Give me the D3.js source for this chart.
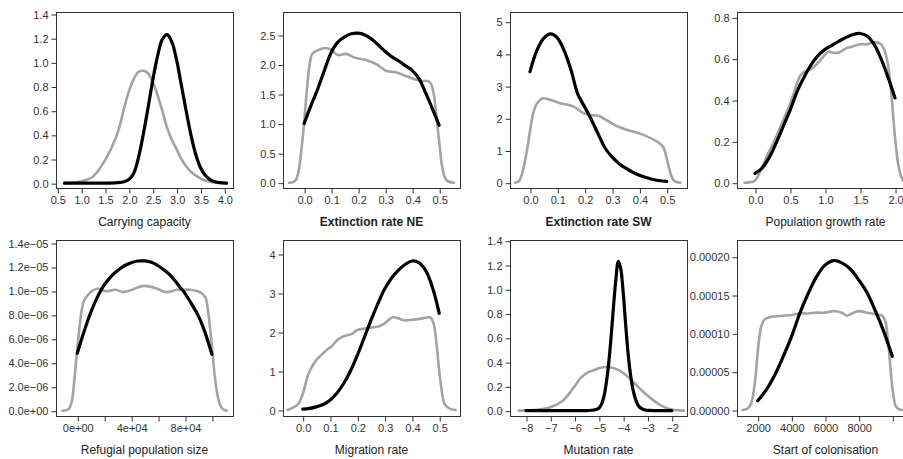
<!DOCTYPE html>
<html>
<head>
<meta charset="utf-8">
<script src="https://cdn.jsdelivr.net/npm/d3@7"></script>
<style>
  html, body { margin: 0; padding: 0; background: #fff; }
  svg { display: block; font-family: "Liberation Sans", Arial, sans-serif; }
</style>
</head>
<body>
<div id="chart"></div>
<script>
// black = posterior, grey = prior / accepted sims

// Carrying capacity
const ccX = [0.65, 0.8, 1.0, 1.25, 1.5, 1.75, 1.9, 2.0, 2.1, 2.2, 2.3, 2.4, 2.5, 2.6, 2.7, 2.8, 2.9, 3.0, 3.1, 3.2, 3.3, 3.4, 3.5, 3.6, 3.7, 3.8, 3.9, 4.05];
const ccPost = [0, 0, 0, 0, 0, 0.004, 0.012, 0.03, 0.08, 0.21, 0.4, 0.62, 0.85, 1.05, 1.19, 1.23, 1.17, 1.02, 0.81, 0.6, 0.4, 0.24, 0.13, 0.065, 0.03, 0.012, 0.005, 0];
const ccPrior = [0, 0.003, 0.015, 0.055, 0.19, 0.4, 0.62, 0.76, 0.86, 0.92, 0.93, 0.91, 0.84, 0.73, 0.6, 0.46, 0.36, 0.28, 0.2, 0.14, 0.095, 0.065, 0.04, 0.022, 0.011, 0.005, 0.002, 0];
const ccXTicks = [0.5, 1.0, 1.5, 2.0, 2.5, 3.0, 3.5, 4.0];
const ccXLabels = ['0.5', '1.0', '1.5', '2.0', '2.5', '3.0', '3.5', '4.0'];
const ccYTicks = [0, 0.2, 0.4, 0.6, 0.8, 1.0, 1.2, 1.4];
const ccYLabels = ['0.0', '0.2', '0.4', '0.6', '0.8', '1.0', '1.2', '1.4'];

// Extinction rate NE
const neX = [0, 0.025, 0.05, 0.075, 0.1, 0.125, 0.15, 0.175, 0.2, 0.225, 0.25, 0.275, 0.3, 0.325, 0.35, 0.375, 0.4, 0.425, 0.45, 0.475, 0.5];
const nePost = [1.0, 1.3, 1.58, 1.9, 2.2, 2.38, 2.47, 2.52, 2.53, 2.5, 2.43, 2.33, 2.22, 2.13, 2.06, 1.98, 1.9, 1.76, 1.52, 1.25, 0.97];
const nePriorX = [-0.055, -0.04, -0.03, -0.02, -0.01, 0, 0.01, 0.02, 0.03, 0.05, 0.08, 0.1, 0.125, 0.155, 0.18, 0.2, 0.235, 0.27, 0.305, 0.34, 0.38, 0.41, 0.435, 0.46, 0.47, 0.48, 0.49, 0.5, 0.51, 0.52, 0.53, 0.555];
const nePrior = [0, 0.01, 0.05, 0.2, 0.55, 1.0, 1.55, 1.98, 2.18, 2.24, 2.28, 2.25, 2.16, 2.18, 2.13, 2.1, 2.07, 2.0, 1.89, 1.87, 1.8, 1.75, 1.72, 1.72, 1.67, 1.5, 1.1, 0.7, 0.3, 0.1, 0.03, 0];
const rateXTicks = [0, 0.1, 0.2, 0.3, 0.4, 0.5];
const rateXLabels = ['0.0', '0.1', '0.2', '0.3', '0.4', '0.5'];
const neYTicks = [0, 0.5, 1.0, 1.5, 2.0, 2.5];
const neYLabels = ['0.0', '0.5', '1.0', '1.5', '2.0', '2.5'];

// Extinction rate SW
const swX = [0, 0.025, 0.05, 0.075, 0.1, 0.125, 0.15, 0.175, 0.2, 0.225, 0.25, 0.275, 0.3, 0.325, 0.35, 0.375, 0.4, 0.425, 0.45, 0.475, 0.5];
const swPost = [3.45, 4.1, 4.48, 4.62, 4.5, 4.1, 3.5, 2.75, 2.35, 1.95, 1.5, 1.07, 0.8, 0.6, 0.45, 0.33, 0.23, 0.16, 0.1, 0.06, 0.04];
const swPriorX = [-0.055, -0.04, -0.03, -0.02, -0.01, 0, 0.012, 0.025, 0.048, 0.075, 0.11, 0.158, 0.195, 0.22, 0.25, 0.28, 0.32, 0.36, 0.41, 0.46, 0.48, 0.49, 0.5, 0.51, 0.52, 0.53, 0.55];
const swPrior = [0, 0.05, 0.25, 0.6, 1.05, 1.6, 2.16, 2.45, 2.62, 2.57, 2.47, 2.37, 2.16, 2.1, 2.08, 1.94, 1.75, 1.63, 1.5, 1.3, 1.18, 1.05, 0.75, 0.4, 0.15, 0.04, 0];
const swYTicks = [0, 1, 2, 3, 4, 5];
const swYLabels = ['0', '1', '2', '3', '4', '5'];

// Population growth rate
const pgX = [0.0, 0.1, 0.2, 0.3, 0.4, 0.5, 0.6, 0.7, 0.8, 0.9, 1.0, 1.1, 1.2, 1.3, 1.4, 1.5, 1.6, 1.7, 1.8, 1.9, 2.0];
const pgPost = [0.045, 0.07, 0.12, 0.19, 0.27, 0.35, 0.44, 0.51, 0.57, 0.615, 0.645, 0.665, 0.685, 0.703, 0.717, 0.722, 0.71, 0.67, 0.6, 0.51, 0.41];
const pgPriorX = [-0.15, -0.05, 0, 0.1, 0.2, 0.3, 0.4, 0.5, 0.6, 0.65, 0.7, 0.8, 0.9, 1.0, 1.05, 1.1, 1.2, 1.3, 1.4, 1.5, 1.6, 1.7, 1.8, 1.85, 1.9, 1.95, 2.0, 2.05, 2.1, 2.15];
const pgPrior = [0, 0.003, 0.01, 0.075, 0.15, 0.22, 0.3, 0.38, 0.48, 0.52, 0.535, 0.55, 0.58, 0.62, 0.635, 0.63, 0.63, 0.65, 0.66, 0.67, 0.67, 0.68, 0.67, 0.64, 0.57, 0.42, 0.22, 0.08, 0.02, 0];
const pgXTicks = [0, 0.5, 1.0, 1.5, 2.0];
const pgXLabels = ['0.0', '0.5', '1.0', '1.5', '2.0'];
const pgYTicks = [0, 0.2, 0.4, 0.6, 0.8];
const pgYLabels = ['0.0', '0.2', '0.4', '0.6', '0.8'];

// Refugial population size (density in units of 1e-05)
const rfX = [0, 5000, 10000, 15000, 20000, 25000, 30000, 35000, 40000, 45000, 50000, 55000, 60000, 65000, 70000, 75000, 80000, 85000, 90000, 95000, 100000];
const rfPost = [0.48, 0.66, 0.82, 0.95, 1.05, 1.12, 1.17, 1.21, 1.235, 1.25, 1.25, 1.24, 1.21, 1.17, 1.12, 1.05, 0.98, 0.89, 0.79, 0.65, 0.47];
const rfPriorX = [-11000, -8000, -6000, -4000, -2500, -1000, 0, 1500, 3300, 5000, 8200, 11000, 15600, 20000, 24000, 28000, 34000, 38000, 43000, 48000, 52000, 59000, 63000, 67000, 74000, 80000, 84000, 91000, 95000, 97000, 99000, 100500, 102000, 104000, 106000, 108000, 111000];
const rfPrior = [0, 0.005, 0.02, 0.08, 0.22, 0.4, 0.52, 0.68, 0.84, 0.92, 0.97, 1.0, 1.02, 1.0, 1.0, 1.01, 0.99, 1.0, 1.02, 1.04, 1.04, 1.02, 1.0, 0.99, 1.01, 1.01, 1.01, 0.99, 0.95, 0.84, 0.65, 0.48, 0.3, 0.14, 0.05, 0.015, 0];
const rfXTicks = [0, 20000, 40000, 60000, 80000, 100000];
const rfXLabels = ['0e+00', '', '4e+04', '', '8e+04', ''];
const rfYTicks = [0, 0.2, 0.4, 0.6, 0.8, 1.0, 1.2, 1.4];
const rfYLabels = ['0.0e+00', '2.0e\u221206', '4.0e\u221206', '6.0e\u221206', '8.0e\u221206', '1.0e\u221205', '1.2e\u221205', '1.4e\u221205'];

// Migration rate
const mgX = [0, 0.025, 0.05, 0.075, 0.1, 0.125, 0.15, 0.175, 0.2, 0.225, 0.25, 0.275, 0.3, 0.325, 0.35, 0.375, 0.4, 0.425, 0.45, 0.475, 0.5];
const mgPost = [0.02, 0.04, 0.08, 0.14, 0.25, 0.43, 0.68, 1.0, 1.4, 1.85, 2.3, 2.72, 3.1, 3.38, 3.58, 3.73, 3.82, 3.78, 3.58, 3.15, 2.48];
const mgPriorX = [-0.055, -0.045, -0.03, -0.016, 0, 0.008, 0.02, 0.033, 0.05, 0.07, 0.09, 0.106, 0.125, 0.143, 0.18, 0.2, 0.24, 0.28, 0.3, 0.313, 0.33, 0.35, 0.37, 0.4, 0.42, 0.44, 0.46, 0.47, 0.48, 0.49, 0.5, 0.51, 0.52, 0.54, 0.56];
const mgPrior = [0, 0.03, 0.08, 0.15, 0.4, 0.6, 0.9, 1.1, 1.28, 1.42, 1.55, 1.63, 1.78, 1.87, 1.95, 2.05, 2.1, 2.15, 2.22, 2.3, 2.38, 2.35, 2.3, 2.31, 2.33, 2.35, 2.38, 2.36, 2.2, 1.7, 1.0, 0.45, 0.15, 0.03, 0];
const mgYTicks = [0, 1, 2, 3, 4];
const mgYLabels = ['0', '1', '2', '3', '4'];

// Mutation rate (log10)
const muX = [-8, -7, -6, -5.5, -5.2, -5.0, -4.9, -4.8, -4.7, -4.6, -4.5, -4.4, -4.3, -4.2, -4.1, -4.0, -3.9, -3.8, -3.7, -3.6, -3.5, -3.4, -3.3, -3.1, -2.8, -2];
const muPost = [0, 0, 0, 0.001, 0.005, 0.02, 0.05, 0.11, 0.22, 0.38, 0.6, 0.85, 1.08, 1.23, 1.17, 0.98, 0.72, 0.48, 0.3, 0.18, 0.1, 0.05, 0.025, 0.006, 0.001, 0];
const muPriorX = [-8.3, -8, -7.5, -7, -6.5, -6, -5.75, -5.5, -5.25, -5, -4.75, -4.5, -4.25, -4, -3.75, -3.5, -3.25, -3, -2.75, -2.5, -2.25, -2, -1.75, -1.5];
const muPrior = [0, 0.002, 0.008, 0.028, 0.08, 0.2, 0.27, 0.31, 0.33, 0.35, 0.36, 0.355, 0.34, 0.31, 0.27, 0.22, 0.17, 0.125, 0.085, 0.05, 0.025, 0.01, 0.003, 0];
const muXTicks = [-8, -7, -6, -5, -4, -3, -2];
const muXLabels = ['\u22128', '\u22127', '\u22126', '\u22125', '\u22124', '\u22123', '\u22122'];

// Start of colonisation (density in units of 1e-05)
const coX = [2000, 2500, 3000, 3500, 4000, 4500, 5000, 5500, 6000, 6500, 7000, 7500, 8000, 8500, 9000, 9500, 10000];
const coPost = [1.2, 2.6, 4.5, 6.9, 9.5, 12.6, 15.2, 17.4, 18.9, 19.5, 19.2, 18.4, 17.0, 15.3, 12.9, 10.2, 7.0];
const coPriorX = [1100, 1400, 1600, 1800, 1900, 2000, 2100, 2200, 2400, 2700, 3000, 3500, 4000, 4500, 5000, 5500, 6000, 6500, 7000, 7300, 7600, 8000, 8500, 9000, 9400, 9600, 9700, 9800, 9900, 10000, 10100, 10200, 10400, 10800];
const coPrior = [0, 0.2, 0.8, 3.0, 5.0, 7.5, 9.5, 10.8, 11.8, 12.1, 12.2, 12.3, 12.4, 12.6, 12.6, 12.7, 12.7, 12.9, 12.7, 12.3, 12.6, 12.9, 12.7, 12.5, 12.3, 11.5, 10.0, 7.8, 5.2, 3.0, 1.4, 0.5, 0.1, 0];
const coXTicks = [2000, 4000, 6000, 8000, 10000];
const coXLabels = ['2000', '4000', '6000', '8000', ''];
const coYTicks = [0, 5, 10, 15, 20];
const coYLabels = ['0.00000', '0.00005', '0.00010', '0.00015', '0.00020'];

const panels = [
    { title: 'Carrying capacity', bold: false, col: 0, row: 0, xDomain: [0.473, 4.182], yDomain: [-0.04, 1.417],
      xTicks: ccXTicks, xLabels: ccXLabels, yTicks: ccYTicks, yLabels: ccYLabels,
      post: [ccX, ccPost], prior: [ccX, ccPrior] },
    { title: 'Extinction rate NE', bold: true, col: 1, row: 0, xDomain: [-0.078, 0.577], yDomain: [-0.09, 2.889],
      xTicks: rateXTicks, xLabels: rateXLabels, yTicks: neYTicks, yLabels: neYLabels,
      post: [neX, nePost], prior: [nePriorX, nePrior] },
    { title: 'Extinction rate SW', bold: true, col: 2, row: 0, xDomain: [-0.073, 0.574], yDomain: [-0.164, 5.301],
      xTicks: rateXTicks, xLabels: rateXLabels, yTicks: swYTicks, yLabels: swYLabels,
      post: [swX, swPost], prior: [swPriorX, swPrior] },
    { title: 'Population growth rate', bold: false, col: 3, row: 0, xDomain: [-0.257, 2.271], yDomain: [-0.0256, 0.826],
      xTicks: pgXTicks, xLabels: pgXLabels, yTicks: pgYTicks, yLabels: pgYLabels,
      post: [pgX, pgPost], prior: [pgPriorX, pgPrior] },
    { title: 'Refugial population size', bold: false, col: 0, row: 1, xDomain: [-15800, 115650], yDomain: [-0.044, 1.425],
      xTicks: rfXTicks, xLabels: rfXLabels, yTicks: rfYTicks, yLabels: rfYLabels,
      post: [rfX, rfPost], prior: [rfPriorX, rfPrior] },
    { title: 'Migration rate', bold: false, col: 1, row: 1, xDomain: [-0.072, 0.576], yDomain: [-0.154, 4.359],
      xTicks: rateXTicks, xLabels: rateXLabels, yTicks: mgYTicks, yLabels: mgYLabels,
      post: [mgX, mgPost], prior: [mgPriorX, mgPrior] },
    { title: 'Mutation rate', bold: false, col: 2, row: 1, xDomain: [-8.66, -1.37], yDomain: [-0.044, 1.406],
      xTicks: muXTicks, xLabels: muXLabels, yTicks: ccYTicks, yLabels: ccYLabels,
      post: [muX, muPost], prior: [muPriorX, muPrior] },
    { title: 'Start of colonisation', bold: false, col: 3, row: 1, xDomain: [770, 11290], yDomain: [-0.78, 22.18],
      xTicks: coXTicks, xLabels: coXLabels, yTicks: coYTicks, yLabels: coYLabels,
      post: [coX, coPost], prior: [coPriorX, coPrior] }
];

const width = 903;
const height = 459;
const colLeft = [56, 283, 510, 737];
const rowTop = [12, 240];
const boxW = 177;
const boxH = 176;

const svg = d3.select('#chart')
    .append('svg')
    .attr('width', width)
    .attr('height', height);

panels.forEach(p => {
    const left = colLeft[p.col];
    const top = rowTop[p.row];

    const x = d3.scaleLinear().domain(p.xDomain).range([left, left + boxW]);
    const y = d3.scaleLinear().domain(p.yDomain).range([top + boxH, top]);

    const g = svg.append('g');

    // smooth density curves through the read-off points
    const line = d3.line()
        .x(d => x(d[0]))
        .y(d => y(d[1]))
        .curve(d3.curveCatmullRom.alpha(0.5));

    // prior first, posterior on top
    g.append('path')
        .datum(d3.zip(p.prior[0], p.prior[1]))
        .attr('d', line)
        .attr('fill', 'none')
        .attr('stroke', '#a3a3a3')
        .attr('stroke-width', 2.6)
        .attr('stroke-linejoin', 'round')
        .attr('stroke-linecap', 'round');

    g.append('path')
        .datum(d3.zip(p.post[0], p.post[1]))
        .attr('d', line)
        .attr('fill', 'none')
        .attr('stroke', '#000')
        .attr('stroke-width', 3.2)
        .attr('stroke-linejoin', 'round')
        .attr('stroke-linecap', 'round');

    // frame
    g.append('rect')
        .attr('x', left + 0.5)
        .attr('y', top + 0.5)
        .attr('width', boxW)
        .attr('height', boxH)
        .attr('fill', 'none')
        .attr('stroke', '#333')
        .attr('stroke-width', 1);

    // x axis
    const xAxis = d3.axisBottom(x)
        .tickValues(p.xTicks)
        .tickSize(5)
        .tickPadding(3)
        .tickFormat((d, i) => p.xLabels[i]);

    const gx = g.append('g')
        .attr('transform', `translate(0.5,${top + boxH + 0.5})`)
        .call(xAxis);
    gx.select('.domain').remove();
    gx.selectAll('line').attr('stroke', '#333');
    gx.selectAll('text')
        .attr('fill', '#333')
        .attr('font-size', '11px')
        .attr('font-family', '"Liberation Sans", Arial, sans-serif');

    // y axis
    const yAxis = d3.axisLeft(y)
        .tickValues(p.yTicks)
        .tickSize(5)
        .tickPadding(3)
        .tickFormat((d, i) => p.yLabels[i]);

    const gy = g.append('g')
        .attr('transform', `translate(${left + 0.5},0.5)`)
        .call(yAxis);
    gy.select('.domain').remove();
    gy.selectAll('line').attr('stroke', '#333');
    gy.selectAll('text')
        .attr('fill', '#333')
        .attr('font-size', '11px')
        .attr('font-family', '"Liberation Sans", Arial, sans-serif');

    // axis title
    g.append('text')
        .attr('x', left + boxW / 2)
        .attr('y', top + boxH + 38)
        .attr('text-anchor', 'middle')
        .attr('font-size', '12px')
        .attr('font-weight', p.bold ? 'bold' : 'normal')
        .attr('fill', '#222')
        .text(p.title);
});
</script>
</body>
</html>
